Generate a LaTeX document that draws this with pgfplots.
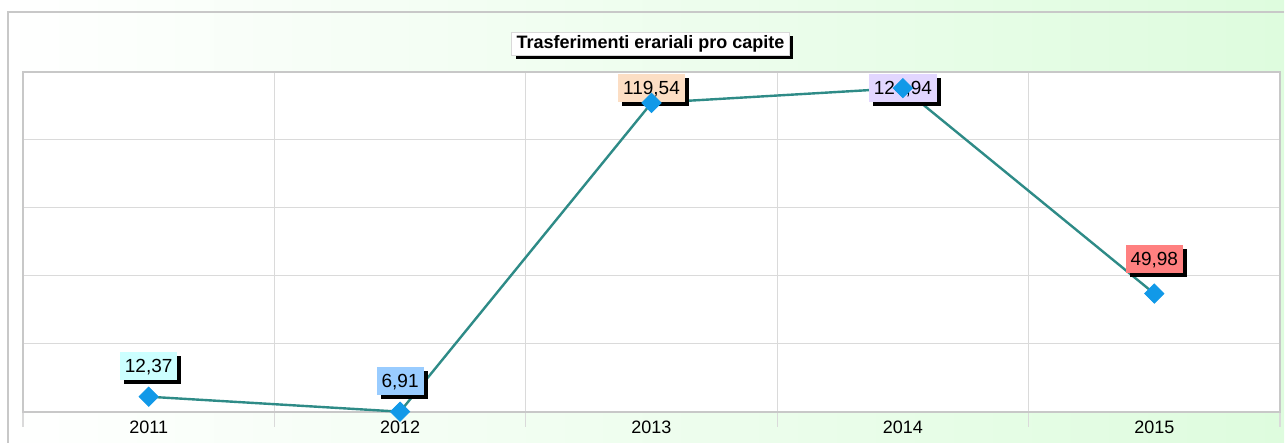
\documentclass[border=0pt]{standalone}
\usepackage{pgfplots}
\pgfplotsset{compat=1.18}
\usepackage{fontspec}
\setmainfont{Liberation Sans}
\usetikzlibrary{shadows}
\definecolor{linec}{RGB}{46,139,135}
\definecolor{markc}{RGB}{17,153,232}
\definecolor{bggreen}{RGB}{222,252,222}
\definecolor{cA}{RGB}{204,255,255}
\definecolor{cB}{RGB}{153,204,255}
\definecolor{cC}{RGB}{252,222,196}
\definecolor{cD}{RGB}{226,214,255}
\definecolor{cE}{RGB}{255,128,128}
\definecolor{gridc}{RGB}{218,218,218}
\definecolor{axc}{RGB}{200,200,200}
\tikzset{lbl/.style={font=\fontsize{9.5pt}{10pt}\selectfont, inner xsep=2.5pt, inner ysep=0pt,
  minimum height=14pt, text depth=0pt,
  drop shadow={shadow xshift=2pt, shadow yshift=-2pt, fill=black, opacity=1}}}
\begin{document}
\begin{tikzpicture}
\shade[left color=white, right color=bggreen] (0pt,0pt) rectangle (642.5pt,221.5pt);
\draw[axc, line width=1pt] (4pt,0pt) -- (4pt,215.5pt) -- (642.5pt,215.5pt);
\fill[white] (11.5pt,15.5pt) rectangle (640.5pt,185.5pt);
\begin{axis}[at={(11.5pt,15.5pt)}, anchor=south west, scale only axis,
  width=629pt, height=170pt,
  xmin=-0.5, xmax=4.5, ymin=6.91, ymax=130.84,
  xtick={0,1,2,3,4}, xticklabels={2011,2012,2013,2014,2015},
  minor xtick={-0.5,0.5,1.5,2.5,3.5,4.5},
  ytick={6.91,31.70,56.48,81.27,106.05,130.84}, yticklabels={},
  xminorgrids, ymajorgrids,
  grid style={gridc, line width=0.6pt},
  minor grid style={gridc, line width=0.6pt},
  tick align=outside, tick pos=left,
  major tick length=0pt, minor tick length=7.5pt,
  minor tick style={gridc, line width=0.6pt},
  axis line style={axc, line width=1pt},
  ticklabel style={font=\fontsize{9pt}{10pt}\selectfont},
  xticklabel style={yshift=-1pt},
  clip=false]
\addplot[linec, line width=1.2pt, mark=none] coordinates {(0,12.37) (1,6.91) (2,119.54) (3,124.94) (4,49.98)};
\node[lbl, fill=cA] at (axis cs:0,23.68) {12,37};
\node[lbl, fill=cB] at (axis cs:1,18.21) {6,91};
\node[lbl, fill=cC] at (axis cs:2,125.0) {119,54};
\node[lbl, fill=cD] at (axis cs:3,125.0) {124,94};
\node[lbl, fill=cE] at (axis cs:4,62.68) {49,98};
\addplot[only marks, mark=square*, mark size=3.4pt, mark options={rotate=45, fill=markc, draw=markc}] coordinates {(0,12.37) (1,6.91) (2,119.54) (3,124.94) (4,49.98)};
\end{axis}
\node[font=\bfseries\fontsize{9pt}{10pt}\selectfont, fill=white, draw=gray!30, inner xsep=2.5pt, inner ysep=0pt, minimum height=11.5pt,
  drop shadow={shadow xshift=2pt, shadow yshift=-2pt, fill=black, opacity=1}] at (325.5pt,199.5pt) {Trasferimenti erariali pro capite};
\end{tikzpicture}
\end{document}
